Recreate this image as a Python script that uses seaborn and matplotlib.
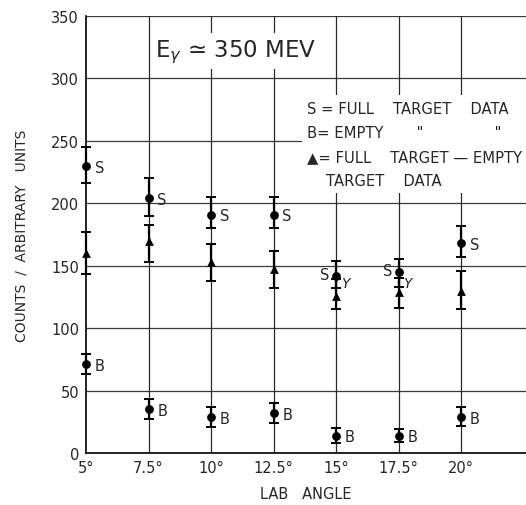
import matplotlib
matplotlib.use("Agg")
import matplotlib.pyplot as plt
import seaborn as sns
import pandas as pd

# ---- data ----
angles = [5.0, 7.5, 10.0, 12.5, 15.0, 17.5, 20.0]
tick_labels = ["5°", "7.5°", "10°", "12.5°", "15°", "17.5°", "20°"]

s_vals = [230, 204, 191, 191, 142, 145, 168]
s_hi   = [245, 220, 205, 205, 154, 155, 182]
s_lo   = [216, 190, 180, 180, 132, 133, 157]

d_vals = [160, 170, 153, 147, 126, 129, 130]
d_hi   = [177, 183, 167, 162, 139, 140, 146]
d_lo   = [143, 153, 138, 132, 115, 116, 115]

b_vals = [71, 35, 29, 32, 14, 14, 29]
b_hi   = [79, 43, 37, 40, 20, 19, 37]
b_lo   = [63, 27, 21, 24, 8, 9, 22]

y_ticks = [0, 50, 100, 150, 200, 250, 300, 350]

sns.set_style("white")
plt.rcParams["font.family"] = ["DejaVu Sans"]

fig = plt.figure(figsize=(5.26, 5.06), dpi=100)
ax = fig.add_axes([86 / 526, 1 - 454 / 506, 440 / 526, 437 / 506])

df = pd.DataFrame({
    "angle": angles * 3,
    "value": s_vals + d_vals + b_vals,
    "hi": s_hi + d_hi + b_hi,
    "lo": s_lo + d_lo + b_lo,
    "kind": ["S"] * 7 + ["D"] * 7 + ["B"] * 7,
})

# grid lines
for yv in y_ticks:
    ax.axhline(yv, color="#3a3a3a", lw=0.9, zorder=0.5)
for xv in angles[1:]:
    ax.axvline(xv, color="#2a2a2a", lw=0.9, zorder=0.5)

# error bars
for kind in ["S", "D", "B"]:
    sub = df[df.kind == kind]
    cont = ax.errorbar(sub.angle, sub.value,
                       yerr=[sub.value - sub.lo, sub.hi - sub.value],
                       fmt="none", ecolor="black", elinewidth=1.6,
                       capsize=3.5, capthick=1.4, zorder=2)
    for art in cont.get_children():
        art.set_clip_on(False)

sns.scatterplot(data=df[df.kind != "D"], x="angle", y="value",
                marker="o", color="black", s=40, edgecolor="black",
                linewidth=0, ax=ax, zorder=3, legend=False, clip_on=False)
sns.scatterplot(data=df[df.kind == "D"], x="angle", y="value",
                marker="^", color="black", s=40, edgecolor="black",
                linewidth=0, ax=ax, zorder=3, legend=False, clip_on=False)

# point labels
for a, v in zip(angles, s_vals):
    if a in (15.0, 17.5):
        ax.text(a - 0.25, v + 1, "S", ha="right", va="center", fontsize=10.5, zorder=4)
    else:
        ax.text(a + 0.35, v - 1, "S", ha="left", va="center", fontsize=10.5, zorder=4)
for a, v in zip(angles, b_vals):
    ax.text(a + 0.35, v - 1, "B", ha="left", va="center", fontsize=10.5, zorder=4)
for a in (15.0, 17.5):
    ax.text(a + 0.2, 136, "Y", ha="left", va="center", fontsize=10,
            style="italic", zorder=4)

# title
ax.text(7.75, 322, r"E$_\gamma$ ≃ 350 MEV", ha="left", va="center",
        fontsize=16.5, zorder=4,
        bbox=dict(facecolor="white", edgecolor="none", pad=3))

# legend block
legend_txt = ("S = FULL    TARGET    DATA\n"
              "B= EMPTY       \"               \"\n"
              "▲= FULL    TARGET — EMPTY\n"
              "    TARGET    DATA")
ax.text(13.85, 282, legend_txt, ha="left", va="top", fontsize=10.6,
        linespacing=1.75, zorder=4,
        bbox=dict(facecolor="white", edgecolor="none", pad=4))

ax.set_xlim(5, 22.6)
ax.set_ylim(0, 350)
ax.set_xticks(angles)
ax.set_xticklabels(tick_labels, fontsize=10.5)
ax.set_yticks(y_ticks)
ax.set_yticklabels([str(v) for v in y_ticks], fontsize=10.5)
ax.tick_params(length=0, pad=5)
for sp in ["top", "right"]:
    ax.spines[sp].set_visible(False)
for sp in ["left", "bottom"]:
    ax.spines[sp].set_color("black")
    ax.spines[sp].set_linewidth(1.2)

ax.set_xlabel("LAB   ANGLE", fontsize=10.5, labelpad=8)
ax.set_ylabel("COUNTS  /  ARBITRARY   UNITS", fontsize=10, labelpad=16)

fig.savefig("out.png", dpi=100)
